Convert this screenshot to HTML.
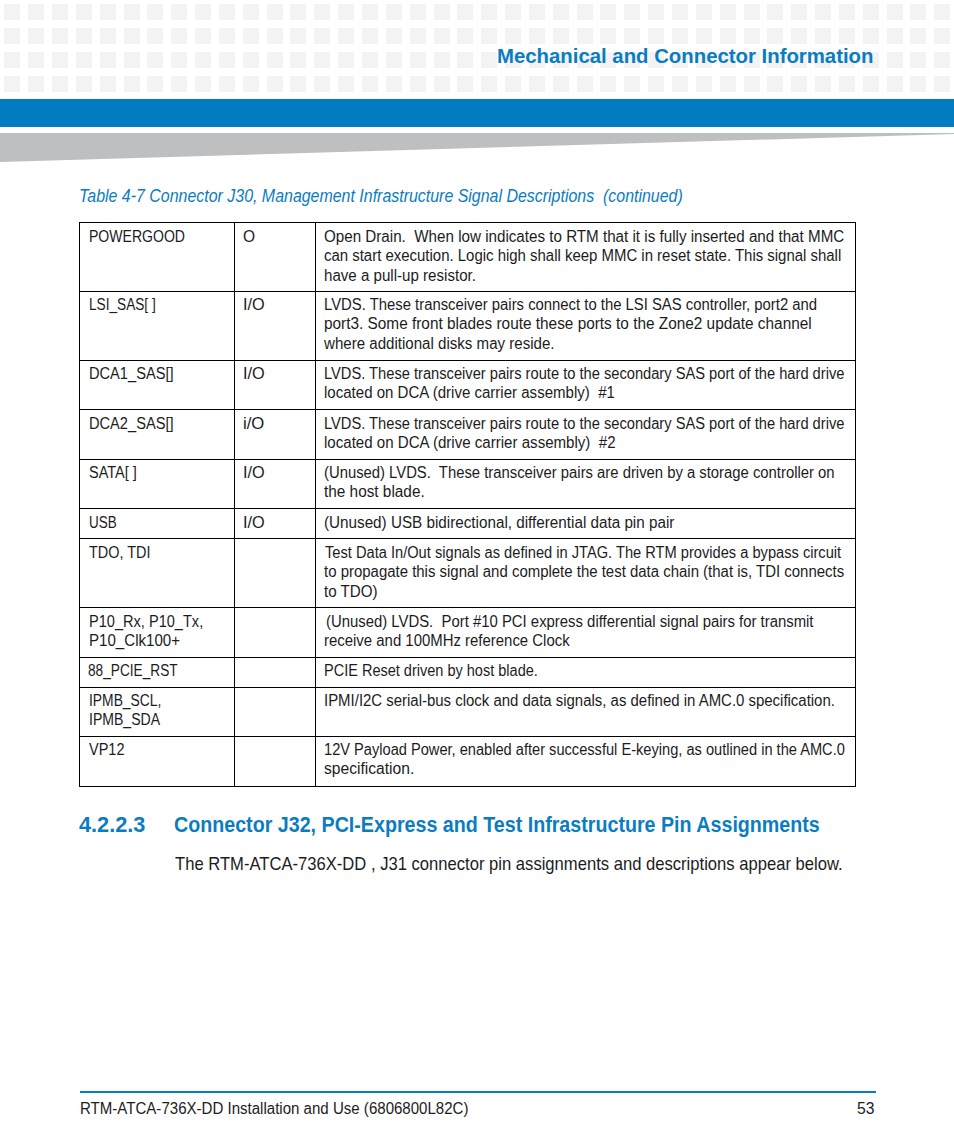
<!DOCTYPE html>
<html><head><meta charset="utf-8"><style>
html,body{margin:0;padding:0;background:#fff;}
body{width:954px;height:1145px;position:relative;overflow:hidden;font-family:"Liberation Sans",sans-serif;}
.t{position:absolute;white-space:pre;line-height:1;transform-origin:0 0;}
.title{font-size:21px;font-weight:bold;color:#0a7cc1;}
.cap{font-size:17.5px;font-style:italic;color:#0a7cc1;}
.td{font-size:16px;color:#1c1c1c;}
.h2{font-size:22px;font-weight:bold;color:#0a7cc1;}
.body{font-size:18.5px;color:#1c1c1c;}
.foot{font-size:16px;color:#1c1c1c;}
.hl{position:absolute;height:1px;background:#000;}
.vl{position:absolute;width:1px;background:#000;}
#grid{position:absolute;left:0;top:0;}
#bar{position:absolute;left:0;top:99px;width:954px;height:28px;background:#007cbf;}
#gray{position:absolute;left:0;top:0;}
#fline{position:absolute;left:80px;top:1091px;width:796px;height:2px;background:#0a7cc1;}
</style></head><body>
<svg id="grid" width="954" height="100" fill="#f3f3f3"><rect x="4.00" y="4" width="16" height="16"/><rect x="28.00" y="4" width="16" height="16"/><rect x="52.00" y="4" width="16" height="16"/><rect x="76.00" y="4" width="16" height="16"/><rect x="100.00" y="4" width="16" height="16"/><rect x="124.00" y="4" width="16" height="16"/><rect x="147.00" y="4" width="16" height="16"/><rect x="171.00" y="4" width="16" height="16"/><rect x="195.00" y="4" width="16" height="16"/><rect x="219.00" y="4" width="16" height="16"/><rect x="243.00" y="4" width="16" height="16"/><rect x="267.00" y="4" width="16" height="16"/><rect x="290.00" y="4" width="16" height="16"/><rect x="314.00" y="4" width="16" height="16"/><rect x="338.00" y="4" width="16" height="16"/><rect x="362.00" y="4" width="16" height="16"/><rect x="386.00" y="4" width="16" height="16"/><rect x="410.00" y="4" width="16" height="16"/><rect x="434.00" y="4" width="16" height="16"/><rect x="457.00" y="4" width="16" height="16"/><rect x="481.00" y="4" width="16" height="16"/><rect x="505.00" y="4" width="16" height="16"/><rect x="529.00" y="4" width="16" height="16"/><rect x="553.00" y="4" width="16" height="16"/><rect x="577.00" y="4" width="16" height="16"/><rect x="600.00" y="4" width="16" height="16"/><rect x="624.00" y="4" width="16" height="16"/><rect x="648.00" y="4" width="16" height="16"/><rect x="672.00" y="4" width="16" height="16"/><rect x="696.00" y="4" width="16" height="16"/><rect x="720.00" y="4" width="16" height="16"/><rect x="744.00" y="4" width="16" height="16"/><rect x="767.00" y="4" width="16" height="16"/><rect x="791.00" y="4" width="16" height="16"/><rect x="815.00" y="4" width="16" height="16"/><rect x="839.00" y="4" width="16" height="16"/><rect x="863.00" y="4" width="16" height="16"/><rect x="887.00" y="4" width="16" height="16"/><rect x="910.00" y="4" width="16" height="16"/><rect x="934.00" y="4" width="16" height="16"/><rect x="958.00" y="4" width="16" height="16"/><rect x="4.00" y="28" width="16" height="16"/><rect x="28.00" y="28" width="16" height="16"/><rect x="52.00" y="28" width="16" height="16"/><rect x="76.00" y="28" width="16" height="16"/><rect x="100.00" y="28" width="16" height="16"/><rect x="124.00" y="28" width="16" height="16"/><rect x="147.00" y="28" width="16" height="16"/><rect x="171.00" y="28" width="16" height="16"/><rect x="195.00" y="28" width="16" height="16"/><rect x="219.00" y="28" width="16" height="16"/><rect x="243.00" y="28" width="16" height="16"/><rect x="267.00" y="28" width="16" height="16"/><rect x="290.00" y="28" width="16" height="16"/><rect x="314.00" y="28" width="16" height="16"/><rect x="338.00" y="28" width="16" height="16"/><rect x="362.00" y="28" width="16" height="16"/><rect x="386.00" y="28" width="16" height="16"/><rect x="410.00" y="28" width="16" height="16"/><rect x="434.00" y="28" width="16" height="16"/><rect x="457.00" y="28" width="16" height="16"/><rect x="481.00" y="28" width="16" height="16"/><rect x="505.00" y="28" width="16" height="16"/><rect x="529.00" y="28" width="16" height="16"/><rect x="553.00" y="28" width="16" height="16"/><rect x="577.00" y="28" width="16" height="16"/><rect x="600.00" y="28" width="16" height="16"/><rect x="624.00" y="28" width="16" height="16"/><rect x="648.00" y="28" width="16" height="16"/><rect x="672.00" y="28" width="16" height="16"/><rect x="696.00" y="28" width="16" height="16"/><rect x="720.00" y="28" width="16" height="16"/><rect x="744.00" y="28" width="16" height="16"/><rect x="767.00" y="28" width="16" height="16"/><rect x="791.00" y="28" width="16" height="16"/><rect x="815.00" y="28" width="16" height="16"/><rect x="839.00" y="28" width="16" height="16"/><rect x="863.00" y="28" width="16" height="16"/><rect x="887.00" y="28" width="16" height="16"/><rect x="910.00" y="28" width="16" height="16"/><rect x="934.00" y="28" width="16" height="16"/><rect x="958.00" y="28" width="16" height="16"/><rect x="4.00" y="52" width="16" height="16"/><rect x="28.00" y="52" width="16" height="16"/><rect x="52.00" y="52" width="16" height="16"/><rect x="76.00" y="52" width="16" height="16"/><rect x="100.00" y="52" width="16" height="16"/><rect x="124.00" y="52" width="16" height="16"/><rect x="147.00" y="52" width="16" height="16"/><rect x="171.00" y="52" width="16" height="16"/><rect x="195.00" y="52" width="16" height="16"/><rect x="219.00" y="52" width="16" height="16"/><rect x="243.00" y="52" width="16" height="16"/><rect x="267.00" y="52" width="16" height="16"/><rect x="290.00" y="52" width="16" height="16"/><rect x="314.00" y="52" width="16" height="16"/><rect x="338.00" y="52" width="16" height="16"/><rect x="362.00" y="52" width="16" height="16"/><rect x="386.00" y="52" width="16" height="16"/><rect x="410.00" y="52" width="16" height="16"/><rect x="434.00" y="52" width="16" height="16"/><rect x="457.00" y="52" width="16" height="16"/><rect x="481.00" y="52" width="16" height="16"/><rect x="505.00" y="52" width="16" height="16"/><rect x="529.00" y="52" width="16" height="16"/><rect x="553.00" y="52" width="16" height="16"/><rect x="577.00" y="52" width="16" height="16"/><rect x="600.00" y="52" width="16" height="16"/><rect x="624.00" y="52" width="16" height="16"/><rect x="648.00" y="52" width="16" height="16"/><rect x="672.00" y="52" width="16" height="16"/><rect x="696.00" y="52" width="16" height="16"/><rect x="720.00" y="52" width="16" height="16"/><rect x="744.00" y="52" width="16" height="16"/><rect x="767.00" y="52" width="16" height="16"/><rect x="791.00" y="52" width="16" height="16"/><rect x="815.00" y="52" width="16" height="16"/><rect x="839.00" y="52" width="16" height="16"/><rect x="863.00" y="52" width="16" height="16"/><rect x="887.00" y="52" width="16" height="16"/><rect x="910.00" y="52" width="16" height="16"/><rect x="934.00" y="52" width="16" height="16"/><rect x="958.00" y="52" width="16" height="16"/><rect x="4.00" y="76" width="16" height="16"/><rect x="28.00" y="76" width="16" height="16"/><rect x="52.00" y="76" width="16" height="16"/><rect x="76.00" y="76" width="16" height="16"/><rect x="100.00" y="76" width="16" height="16"/><rect x="124.00" y="76" width="16" height="16"/><rect x="147.00" y="76" width="16" height="16"/><rect x="171.00" y="76" width="16" height="16"/><rect x="195.00" y="76" width="16" height="16"/><rect x="219.00" y="76" width="16" height="16"/><rect x="243.00" y="76" width="16" height="16"/><rect x="267.00" y="76" width="16" height="16"/><rect x="290.00" y="76" width="16" height="16"/><rect x="314.00" y="76" width="16" height="16"/><rect x="338.00" y="76" width="16" height="16"/><rect x="362.00" y="76" width="16" height="16"/><rect x="386.00" y="76" width="16" height="16"/><rect x="410.00" y="76" width="16" height="16"/><rect x="434.00" y="76" width="16" height="16"/><rect x="457.00" y="76" width="16" height="16"/><rect x="481.00" y="76" width="16" height="16"/><rect x="505.00" y="76" width="16" height="16"/><rect x="529.00" y="76" width="16" height="16"/><rect x="553.00" y="76" width="16" height="16"/><rect x="577.00" y="76" width="16" height="16"/><rect x="600.00" y="76" width="16" height="16"/><rect x="624.00" y="76" width="16" height="16"/><rect x="648.00" y="76" width="16" height="16"/><rect x="672.00" y="76" width="16" height="16"/><rect x="696.00" y="76" width="16" height="16"/><rect x="720.00" y="76" width="16" height="16"/><rect x="744.00" y="76" width="16" height="16"/><rect x="767.00" y="76" width="16" height="16"/><rect x="791.00" y="76" width="16" height="16"/><rect x="815.00" y="76" width="16" height="16"/><rect x="839.00" y="76" width="16" height="16"/><rect x="863.00" y="76" width="16" height="16"/><rect x="887.00" y="76" width="16" height="16"/><rect x="910.00" y="76" width="16" height="16"/><rect x="934.00" y="76" width="16" height="16"/><rect x="958.00" y="76" width="16" height="16"/></svg>
<div id="bar"></div>
<svg id="gray" width="954" height="170"><polygon points="0,133 954,133 954,134 0,162" fill="#bebfc1"/></svg>
<div class="hl" style="top:222px;left:79px;width:777px"></div><div class="hl" style="top:291px;left:79px;width:777px"></div><div class="hl" style="top:360px;left:79px;width:777px"></div><div class="hl" style="top:409px;left:79px;width:777px"></div><div class="hl" style="top:459px;left:79px;width:777px"></div><div class="hl" style="top:508px;left:79px;width:777px"></div><div class="hl" style="top:538px;left:79px;width:777px"></div><div class="hl" style="top:607px;left:79px;width:777px"></div><div class="hl" style="top:657px;left:79px;width:777px"></div><div class="hl" style="top:687px;left:79px;width:777px"></div><div class="hl" style="top:736px;left:79px;width:777px"></div><div class="hl" style="top:786px;left:79px;width:777px"></div><div class="vl" style="left:79px;top:222px;height:565px"></div><div class="vl" style="left:234px;top:222px;height:565px"></div><div class="vl" style="left:315px;top:222px;height:565px"></div><div class="vl" style="left:855px;top:222px;height:565px"></div>
<span class="t title" id="s0" style="left:496.59px;top:44.72px;transform:scaleX(0.9689)">Mechanical and Connector Information</span><span class="t cap" id="s1" style="left:79.05px;top:187.68px;transform:scaleX(0.9110)">Table 4-7 Connector J30, Management Infrastructure Signal Descriptions  (continued)</span><span class="t td" id="s2" style="left:88.86px;top:229.00px;transform:scaleX(0.8781)">POWERGOOD</span><span class="t td" id="s3" style="left:243.05px;top:229.00px;transform:scaleX(0.9714)">O</span><span class="t td" id="s4" style="left:324.29px;top:229.00px;transform:scaleX(0.9487)">Open Drain.  When low indicates to RTM that it is fully inserted and that MMC</span><span class="t td" id="s5" style="left:324.48px;top:248.00px;transform:scaleX(0.9341)">can start execution. Logic high shall keep MMC in reset state. This signal shall</span><span class="t td" id="s6" style="left:324.14px;top:268.00px;transform:scaleX(0.9437)">have a pull-up resistor.</span><span class="t td" id="s7" style="left:88.86px;top:297.00px;transform:scaleX(0.8525)">LSI_SAS[ ]</span><span class="t td" id="s8" style="left:243.09px;top:297.00px;transform:scaleX(1.0165)">I/O</span><span class="t td" id="s9" style="left:323.99px;top:297.00px;transform:scaleX(0.9281)">LVDS. These transceiver pairs connect to the LSI SAS controller, port2 and</span><span class="t td" id="s10" style="left:324.14px;top:316.00px;transform:scaleX(0.9602)">port3. Some front blades route these ports to the Zone2 update channel</span><span class="t td" id="s11" style="left:324.08px;top:336.00px;transform:scaleX(0.9426)">where additional disks may reside.</span><span class="t td" id="s12" style="left:88.78px;top:366.00px;transform:scaleX(0.9139)">DCA1_SAS[]</span><span class="t td" id="s13" style="left:243.09px;top:366.00px;transform:scaleX(1.0165)">I/O</span><span class="t td" id="s14" style="left:323.99px;top:366.00px;transform:scaleX(0.9167)">LVDS. These transceiver pairs route to the secondary SAS port of the hard drive</span><span class="t td" id="s15" style="left:324.15px;top:385.00px;transform:scaleX(0.9399)">located on DCA (drive carrier assembly)  #1</span><span class="t td" id="s16" style="left:88.78px;top:416.00px;transform:scaleX(0.9139)">DCA2_SAS[]</span><span class="t td" id="s17" style="left:242.86px;top:416.00px;transform:scaleX(1.0438)">i/O</span><span class="t td" id="s18" style="left:323.99px;top:416.00px;transform:scaleX(0.9167)">LVDS. These transceiver pairs route to the secondary SAS port of the hard drive</span><span class="t td" id="s19" style="left:324.15px;top:435.00px;transform:scaleX(0.9421)">located on DCA (drive carrier assembly)  #2</span><span class="t td" id="s20" style="left:88.77px;top:465.00px;transform:scaleX(0.9053)">SATA[ ]</span><span class="t td" id="s21" style="left:243.09px;top:465.00px;transform:scaleX(1.0165)">I/O</span><span class="t td" id="s22" style="left:324.03px;top:465.00px;transform:scaleX(0.9269)">(Unused) LVDS.  These transceiver pairs are driven by a storage controller on</span><span class="t td" id="s23" style="left:324.26px;top:484.00px;transform:scaleX(0.9591)">the host blade.</span><span class="t td" id="s24" style="left:88.90px;top:515.00px;transform:scaleX(0.8399)">USB</span><span class="t td" id="s25" style="left:243.09px;top:515.00px;transform:scaleX(1.0165)">I/O</span><span class="t td" id="s26" style="left:323.99px;top:515.00px;transform:scaleX(0.9523)">(Unused) USB bidirectional, differential data pin pair</span><span class="t td" id="s27" style="left:89.45px;top:545.00px;transform:scaleX(0.9009)">TDO, TDI</span><span class="t td" id="s28" style="left:324.63px;top:545.00px;transform:scaleX(0.9155)">Test Data In/Out signals as defined in JTAG. The RTM provides a bypass circuit</span><span class="t td" id="s29" style="left:324.26px;top:564.00px;transform:scaleX(0.9347)">to propagate this signal and complete the test data chain (that is, TDI connects</span><span class="t td" id="s30" style="left:324.26px;top:584.00px;transform:scaleX(0.9479)">to TDO)</span><span class="t td" id="s31" style="left:88.79px;top:614.00px;transform:scaleX(0.9105)">P10_Rx, P10_Tx,</span><span class="t td" id="s32" style="left:88.75px;top:633.00px;transform:scaleX(0.9430)">P10_Clk100+</span><span class="t td" id="s33" style="left:326.42px;top:614.00px;transform:scaleX(0.9302)">(Unused) LVDS.  Port #10 PCI express differential signal pairs for transmit</span><span class="t td" id="s34" style="left:324.14px;top:633.00px;transform:scaleX(0.9331)">receive and 100MHz reference Clock</span><span class="t td" id="s35" style="left:88.21px;top:663.00px;transform:scaleX(0.8546)">88_PCIE_RST</span><span class="t td" id="s36" style="left:323.99px;top:663.00px;transform:scaleX(0.9072)">PCIE Reset driven by host blade.</span><span class="t td" id="s37" style="left:88.76px;top:693.00px;transform:scaleX(0.8658)">IPMB_SCL,</span><span class="t td" id="s38" style="left:88.69px;top:712.00px;transform:scaleX(0.8778)">IPMB_SDA</span><span class="t td" id="s39" style="left:323.85px;top:693.00px;transform:scaleX(0.9341)">IPMI/I2C serial-bus clock and data signals, as defined in AMC.0 specification.</span><span class="t td" id="s40" style="left:88.51px;top:742.00px;transform:scaleX(0.9066)">VP12</span><span class="t td" id="s41" style="left:323.74px;top:742.00px;transform:scaleX(0.9136)">12V Payload Power, enabled after successful E-keying, as outlined in the AMC.0</span><span class="t td" id="s42" style="left:324.34px;top:761.00px;transform:scaleX(0.9760)">specification.</span><span class="t h2" id="s43" style="left:78.90px;top:814.47px;transform:scaleX(0.9868)">4.2.2.3</span><span class="t h2" id="s44" style="left:173.71px;top:814.47px;transform:scaleX(0.8938)">Connector J32, PCI-Express and Test Infrastructure Pin Assignments</span><span class="t body" id="s45" style="left:174.69px;top:855.24px;transform:scaleX(0.8976)">The RTM-ATCA-736X-DD , J31 connector pin assignments and descriptions appear below.</span><span class="t foot" id="s46" style="left:79.96px;top:1100.75px;transform:scaleX(0.9408)">RTM-ATCA-736X-DD Installation and Use (6806800L82C)</span><span class="t foot" id="s47" style="left:857.34px;top:1100.75px;transform:scaleX(0.9816)">53</span>
<div id="fline"></div>
</body></html>
